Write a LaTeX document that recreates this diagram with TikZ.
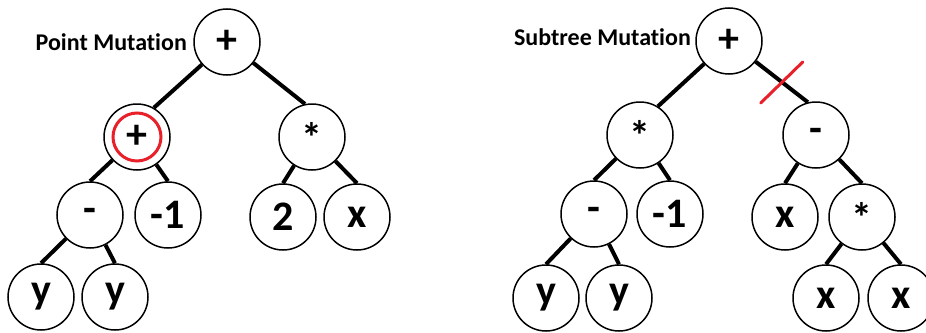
\documentclass[tikz,border=0pt]{standalone}
\usepackage{fontspec}
\setmainfont[Ligatures={NoCommon,NoContextual}]{Carlito}
\usetikzlibrary{positioning,calc}
\definecolor{mut}{HTML}{E8202A}
\tikzset{
  op/.style={circle, draw, line width=0.75pt, minimum size=33pt, inner sep=0pt, font=\fontsize{21}{21}\selectfont\bfseries},
  edge/.style={line width=2pt, black},
  lbl/.style={font=\fontsize{12}{12}\selectfont\bfseries, inner sep=0pt},
  redring/.style={circle, draw=mut, line width=1.5pt, minimum size=24pt, inner sep=0pt},
  slash/.style={mut, line width=1.5pt, line cap=round},
}

\begin{document}
\begin{tikzpicture}[x=0.5pt,y=-0.5pt]
 \useasboundingbox (0,0) rectangle (926,332);
 % point mutation
 \node[op] (rootL) at (227,42) {+};
 \node[op] (plusL) at (137,137) {+};
 \node[op] (timesL) at (312,137) {*};
 \node[op] (minusL) at (90,215) {-};
 \node[op] (negL) at (168,215) {-1};
 \node[op] (twoL) at (283,217) {2};
 \node[op] (xL) at (357,217) {x};
 \node[op] (yaL) at (41,297) {y};
 \node[op] (ybL) at (115,297) {y};
 \node[redring] (ringL) at (plusL) {};
 \node[lbl, left=3pt of rootL] (titleL) {Point Mutation};
 \draw[edge] (rootL) -- (plusL.60);
 \draw[edge] (rootL) -- (timesL.102);
 \draw[edge] (plusL) -- (minusL.north);
 \draw[edge] (plusL) -- (negL.north);
 \draw[edge] (timesL) -- (twoL.north);
 \draw[edge] (timesL) -- (xL.north);
 \draw[edge] (minusL) -- (yaL.north);
 \draw[edge] (minusL) -- (ybL.north);
 % subtree mutation
 \node[op] (rootR) at (729,41) {+};
 \node[op] (timesR) at (640,135) {*};
 \node[op] (minusR) at (816,135) {-};
 \node[op] (subR) at (594,214) {-};
 \node[op] (negR) at (670,214) {-1};
 \node[op] (xaR) at (785,217) {x};
 \node[op] (prodR) at (862,217) {*};
 \node[op] (yaR) at (546,298) {y};
 \node[op] (ybR) at (619,298) {y};
 \node[op] (xbR) at (826,298) {x};
 \node[op] (xcR) at (901,298) {x};
 \node[lbl, left=2pt of rootR, yshift=2pt] (titleR) {Subtree Mutation};
 \draw[edge] (rootR) -- (timesR.58);
 \draw[edge] (rootR) -- (minusR.104) coordinate[pos=0.5] (cutR);
 \draw[edge] (timesR) -- (subR.north);
 \draw[edge] (timesR) -- (negR.north);
 \draw[edge] (minusR) -- (xaR.north);
 \draw[edge] (minusR) -- (prodR.north);
 \draw[edge] (subR) -- (yaR.north);
 \draw[edge] (subR) -- (ybR.north);
 \draw[edge] (prodR) -- (xbR.north);
 \draw[edge] (prodR) -- (xcR.north);
 \draw[slash] ($(cutR)+(-21,21)$) -- ($(cutR)+(21,-20)$);
\end{tikzpicture}
\end{document}
